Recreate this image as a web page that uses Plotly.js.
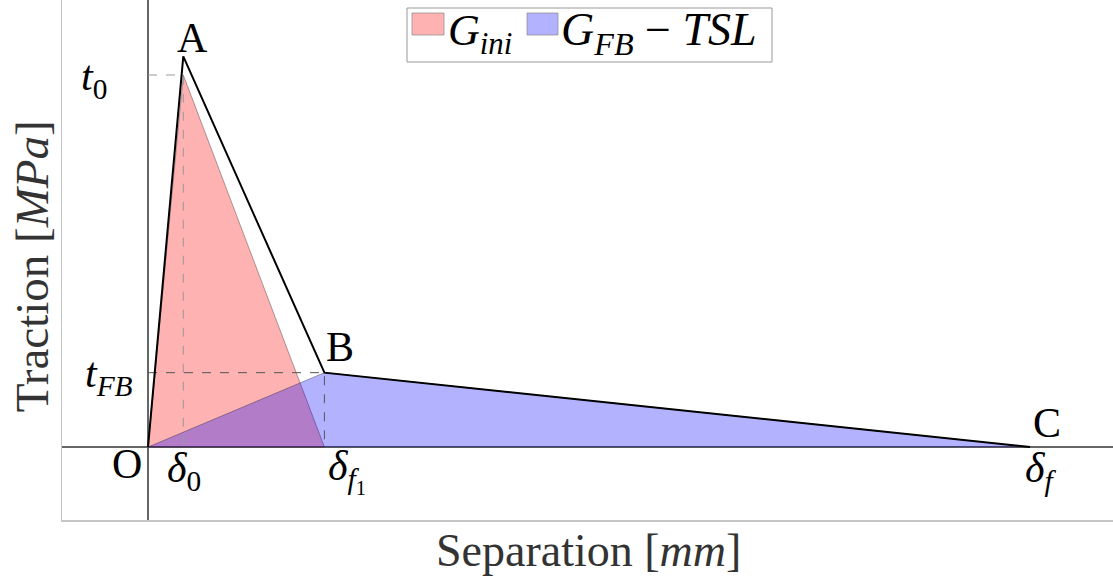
<!DOCTYPE html>
<html>
<head>
<meta charset="utf-8">
<script src="https://cdn.plot.ly/plotly-3.0.1.min.js"></script>
<style>html,body{margin:0;padding:0;background:#fff;}#chart{width:1113px;height:576px;}</style>
</head>
<body>
<div id="chart"></div>
<script>
// Bilinear traction-separation law (black outline)
const curveSep  = [0, 0.04, 0.2, 1.0];
const curveTrac = [0, 1.05, 0.2, 0];
// G_ini triangle (red)
const iniSep  = [0, 0.04, 0.2, 0];
const iniTrac = [0, 1.0, 0, 0];
// G_FB - TSL triangle (blue)
const fbSep  = [0, 0.2, 1.0, 0];
const fbTrac = [0, 0.2, 0, 0];
// characteristic values
const delta0 = 0.04, deltaF1 = 0.2, deltaF = 1.0;
const t0 = 1.0, tFB = 0.2;
const seriesNames = ['<i>G</i><sub><i>ini</i></sub>', '<i>G</i><sub><i>FB</i></sub> \u2212 <i>TSL</i>'];
const seriesColors = ['rgba(255,0,0,0.3)', 'rgba(0,0,255,0.3)'];

const serif = '"Liberation Serif"';
const traces = [
  {x: iniSep, y: iniTrac, mode: 'lines', fill: 'toself', fillcolor: seriesColors[0],
   line: {color: 'rgba(60,40,40,0.6)', width: 0.7}, name: 'G_ini', hoverinfo: 'skip', showlegend: false},
  {x: fbSep, y: fbTrac, mode: 'lines', fill: 'toself', fillcolor: seriesColors[1],
   line: {color: 'rgba(40,40,60,0.6)', width: 0.7}, name: 'G_FB-TSL', hoverinfo: 'skip', showlegend: false},
  {x: [0, delta0, delta0], y: [t0, t0, 0], mode: 'lines', line: {color: '#999', width: 1, dash: 'dash'}, showlegend: false, hoverinfo: 'skip'},
  {x: [0, deltaF1, deltaF1], y: [tFB, tFB, 0], mode: 'lines', line: {color: '#555', width: 1, dash: 'dash'}, showlegend: false, hoverinfo: 'skip'},
  {x: curveSep, y: curveTrac, mode: 'lines', line: {color: '#000', width: 2}, showlegend: false, hoverinfo: 'skip'}
];

const fs = 42;
function lab(x, y, text, size) {
  return {x: x, y: y, xref: 'x', yref: 'y', text: text, showarrow: false,
          font: {family: serif, size: size || fs, color: '#000'}, xanchor: 'center', yanchor: 'middle'};
}
// paper-coordinate helpers for the legend box (plot area 62..1113 x 0..520 px)
const px = v => (v - 62) / 1051;
const py = v => 1 - v / 520;

const annotations = [
  lab(0.051, 1.10, 'A'),
  lab(0.218, 0.27, 'B'),
  lab(1.019, 0.065, 'C'),
  lab(-0.024, -0.045, 'O'),
  lab(0.041, -0.065, '<i>δ</i><sub>0</sub>'),
  lab(0.226, -0.065, '<i>δ</i><sub><i>f</i><sub>1</sub></sub>'),
  lab(1.012, -0.065, '<i>δ</i><sub><i>f</i></sub>'),
  lab(-0.061, 0.99, '<i>t</i><sub>0</sub>'),
  lab(-0.044, 0.19, '<i>t</i><sub><i>FB</i></sub>'),
  {x: 0.5005, y: 0, xref: 'paper', yref: 'paper', yshift: -30, text: 'Separation [<i>mm</i>]', showarrow: false,
   font: {family: serif, size: 46, color: '#333'}, xanchor: 'center', yanchor: 'middle'},
  {x: 0, y: 0.488, xref: 'paper', yref: 'paper', xshift: -30, text: 'Traction [<i>MPa</i>]', showarrow: false, textangle: -90,
   font: {family: serif, size: 47, color: '#333'}, xanchor: 'center', yanchor: 'middle'},
  // legend texts
  {x: px(446), y: py(33), xref: 'paper', yref: 'paper', text: seriesNames[0], showarrow: false,
   font: {family: serif, size: 44, color: '#000'}, xanchor: 'left', yanchor: 'middle'},
  {x: px(559), y: py(33), xref: 'paper', yref: 'paper', text: seriesNames[1], showarrow: false,
   font: {family: serif, size: 46, color: '#000'}, xanchor: 'left', yanchor: 'middle'}
];

const shapes = [
  {type: 'rect', xref: 'paper', yref: 'paper', x0: px(407), x1: px(772), y0: py(62), y1: py(8),
   line: {color: '#999', width: 1}, fillcolor: '#fff', layer: 'above'},
  {type: 'rect', xref: 'paper', yref: 'paper', x0: px(412), x1: px(444), y0: py(35), y1: py(13),
   line: {color: '#888', width: 0.7}, fillcolor: seriesColors[0], layer: 'above'},
  {type: 'rect', xref: 'paper', yref: 'paper', x0: px(527), x1: px(558), y0: py(35), y1: py(13),
   line: {color: '#888', width: 0.7}, fillcolor: seriesColors[1], layer: 'above'}
];

const layout = {
  width: 1113, height: 576,
  margin: {l: 62, r: 0, t: 0, b: 56},
  paper_bgcolor: '#fff', plot_bgcolor: '#fff',
  showlegend: false,
  xaxis: {range: [-0.0975, 1.094], showgrid: false, showticklabels: false, ticks: '',
          zeroline: true, zerolinecolor: '#666', zerolinewidth: 1.5,
          showline: true, linecolor: '#c4c4c4', linewidth: 1.5},
  yaxis: {range: [-0.196, 1.2016], showgrid: false, showticklabels: false, ticks: '',
          zeroline: true, zerolinecolor: '#666', zerolinewidth: 1.5,
          showline: true, linecolor: '#c4c4c4', linewidth: 1.5},
  annotations: annotations,
  shapes: shapes
};

Plotly.newPlot('chart', traces, layout, {staticPlot: true, displayModeBar: false});
</script>
</body>
</html>
